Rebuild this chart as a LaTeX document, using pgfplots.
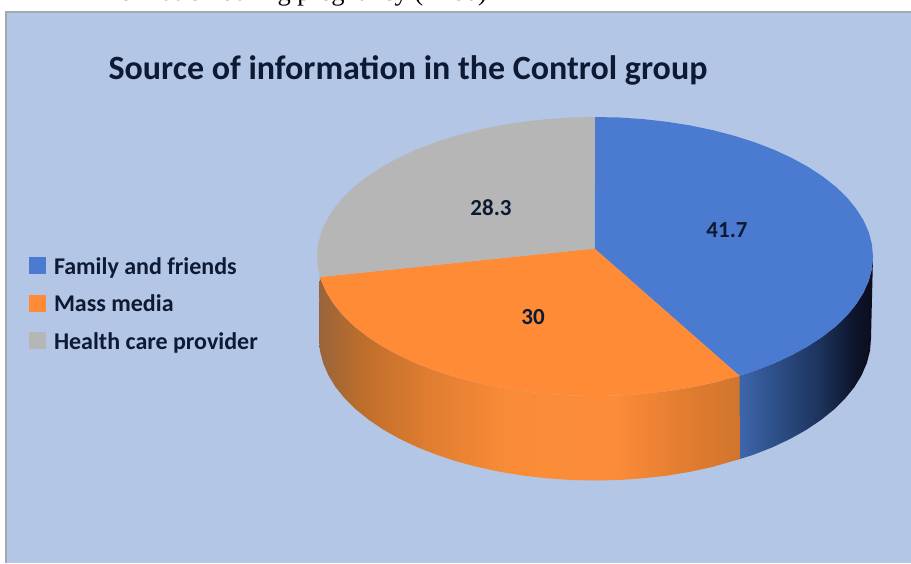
\documentclass[border=0pt]{standalone}
\usepackage{pgfplots}
\pgfplotsset{compat=1.18}
\usepackage{fontspec}
\setmainfont{Carlito}
\newfontfamily\bodyserif{Liberation Serif}
\definecolor{panelblue}{HTML}{B3C6E6}
\definecolor{paneledge}{HTML}{A3A9B3}
\definecolor{sliceblue}{HTML}{4A7BD0}
\definecolor{sliceorange}{HTML}{FF8B37}
\definecolor{slicegray}{HTML}{B6B6B6}
\definecolor{inktext}{HTML}{0E1A33}
% Horizontal light falloff on the rim of the pie; 25bp and 75bp are the path's edges.
\pgfdeclarehorizontalshading{rimorange}{100bp}{
  rgb(0bp)=(.60,.39,.23);
  rgb(25bp)=(.60,.39,.23);
  rgb(30bp)=(.74,.43,.17);
  rgb(38bp)=(.88,.49,.19);
  rgb(48bp)=(.98,.55,.22);
  rgb(60bp)=(.99,.55,.22);
  rgb(68bp)=(.89,.49,.19);
  rgb(75bp)=(.82,.46,.18);
  rgb(100bp)=(.82,.46,.18)}
\pgfdeclarehorizontalshading{rimblue}{100bp}{
  rgb(0bp)=(.24,.40,.67);
  rgb(25bp)=(.24,.40,.67);
  rgb(40bp)=(.17,.30,.52);
  rgb(55bp)=(.11,.20,.36);
  rgb(68bp)=(.05,.08,.17);
  rgb(75bp)=(.04,.05,.11);
  rgb(100bp)=(.04,.05,.11)}
\begin{document}
\begin{tikzpicture}
\clip (0,0) rectangle (911pt,563pt);
\begin{axis}[
  anchor=south west, at={(0,0)},
  scale only axis, width=911pt, height=563pt,
  xmin=0, xmax=911, ymin=0, ymax=563, y dir=reverse,
  hide axis, clip=false,
  legend cell align=left,
  legend image code/.code={\fill[#1,draw=none] (0pt,-8.5pt) rectangle (17pt,8.5pt);},
  legend style={
    at={(axis cs:29,257)}, anchor=north west,
    draw=none, fill=none, inner sep=0pt, outer sep=0pt,
    row sep=20.5pt, column sep=8pt,
    font=\fontsize{24}{26}\selectfont\bfseries\color{inktext},
    nodes={inner sep=0pt, text height=17pt, text depth=0pt}},
]
% Chart panel
\addplot[forget plot, draw=none, fill=panelblue] coordinates {(6,12) (911,12) (911,563) (6,563)} --cycle;
\addplot[forget plot, draw=paneledge, line width=1.6pt] coordinates {(6,563) (6,12) (911,12)};

% Rim of the blue slice
\addplot[forget plot, draw=none, shading=rimblue] coordinates {
 (873,256.5) (871.9,268.7) (868.8,280.7) (863.5,292.6) (856.2,304.2) (847,315.5)
 (835.8,326.3) (822.7,336.5) (808,346.2) (791.6,355.1) (773.7,363.4) (754.5,370.8) (739.5,375.8)
 (740,459) (753.3,454.8) (772.4,447.3) (790.2,438.9) (806.4,429.8) (821.1,419.9) (834,409.5)
 (845.1,398.5) (854.4,387.1) (861.6,375.3) (866.8,363.2) (870,350.9) (871,338.5)} --cycle;
% Rim of the orange slice
\addplot[forget plot, draw=none, shading=rimorange] coordinates {
 (739.5,375.8) (712.5,382.9) (690.1,387.6) (667,391.2) (643.3,393.9) (619.2,395.5) (595,396)
 (570.8,395.5) (546.7,393.9) (523,391.2) (499.9,387.6) (477.5,382.9) (456,377.3) (435.5,370.8)
 (416.3,363.4) (398.4,355.1) (382,346.2) (367.3,336.5) (354.2,326.3) (343,315.5) (333.8,304.2)
 (326.5,292.6) (321.2,280.7) (319.8,277)
 (319,338.5) (320,350.9) (323.2,363.2) (328.4,375.3) (335.6,387.1) (344.9,398.5) (356,409.5)
 (368.9,419.9) (383.6,429.8) (399.8,438.9) (417.6,447.3) (436.7,454.8) (457,461.5) (478.4,467.2)
 (500.6,471.9) (523.6,475.7) (547.1,478.3) (570.9,480) (595,480.5) (619.1,480) (642.9,478.3)
 (666.4,475.7) (689.4,471.9) (711.6,467.2) (740,459)} --cycle;

% Top faces: Family and friends 41.7, Mass media 30, Health care provider 28.3
\addplot[draw=none, fill=sliceblue] coordinates {
 (594.5,248.5) (595,117) (619.2,117.5) (643.3,119.1) (667,121.8) (690.1,125.4) (712.5,130.1)
 (734,135.7) (754.5,142.2) (773.7,149.6) (791.6,157.9) (808,166.8) (822.7,176.5) (835.8,186.7)
 (847,197.5) (856.2,208.8) (863.5,220.4) (868.8,232.3) (871.9,244.3) (873,256.5) (871.9,268.7)
 (868.8,280.7) (863.5,292.6) (856.2,304.2) (847,315.5) (835.8,326.3) (822.7,336.5) (808,346.2)
 (791.6,355.1) (773.7,363.4) (754.5,370.8) (739.5,375.8)} --cycle;
\addlegendentry{Family and friends}
\addplot[draw=none, fill=sliceorange] coordinates {
 (594.5,248.5) (739.5,375.8) (712.5,382.9) (690.1,387.6) (667,391.2) (643.3,393.9) (619.2,395.5)
 (595,396) (570.8,395.5) (546.7,393.9) (523,391.2) (499.9,387.6) (477.5,382.9) (456,377.3)
 (435.5,370.8) (416.3,363.4) (398.4,355.1) (382,346.2) (367.3,336.5) (354.2,326.3) (343,315.5)
 (333.8,304.2) (326.5,292.6) (321.2,280.7) (319.8,277)} --cycle;
\addlegendentry{Mass media}
\addplot[draw=none, fill=slicegray] coordinates {
 (594.5,248.5) (319.8,277) (318.1,268.7) (317,256.5) (318.1,244.3) (321.2,232.3) (326.5,220.4)
 (333.8,208.8) (343,197.5) (354.2,186.7) (367.3,176.5) (382,166.8) (398.4,157.9) (416.3,149.6)
 (435.5,142.2) (456,135.7) (477.5,130.1) (499.9,125.4) (523,121.8) (546.7,119.1) (570.8,117.5)
 (595,117)} --cycle;
\addlegendentry{Health care provider}

% Value labels and title
\node[font=\fontsize{23}{25}\selectfont\bfseries, text=inktext] at (axis cs:727,230) {41.7};
\node[font=\fontsize{23}{25}\selectfont\bfseries, text=inktext] at (axis cs:533,317) {30};
\node[font=\fontsize{23}{25}\selectfont\bfseries, text=inktext] at (axis cs:491,208) {28.3};
\node[font=\fontsize{34}{37}\selectfont\bfseries, text=inktext] at (axis cs:408,70) {Source of information in the Control group};
% Tail of the line of body text running above the panel
\node[font=\fontsize{26.5}{28}\selectfont\bodyserif, text=black, anchor=base east, inner sep=0pt] at (axis cs:487,0.5) {information during pregnancy (n=60)};
\end{axis}
\end{tikzpicture}
\end{document}
